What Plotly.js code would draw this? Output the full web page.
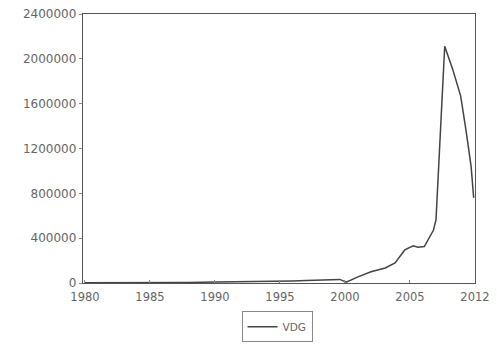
<!DOCTYPE html>
<html>
<head>
<meta charset="utf-8">
<script src="https://cdn.plot.ly/plotly-3.0.1.min.js"></script>
<style>html,body{margin:0;padding:0;background:#fff;}#chart{width:497px;height:345px;}</style>
</head>
<body>
<div id="chart"></div>
<script>
// Data
const years = [1980, 1982, 1984, 1986, 1988, 1990, 1992, 1994, 1995, 1996, 1997, 1998, 1999, 1999.6, 2000.1, 2000.5, 2001, 2002, 2003.1, 2003.85, 2004.6, 2005.25, 2005.6, 2006.1, 2006.8, 2007.0, 2007.67, 2008.3, 2008.9, 2009.3, 2009.7, 2009.9];
const vdg = [3000, 2000, 4000, 3000, 5000, 8000, 10000, 12000, 15000, 18000, 22000, 28000, 30000, 32000, 8000, 30000, 55000, 101000, 134000, 179000, 295000, 331000, 320000, 325000, 470000, 564000, 2112000, 1900000, 1667000, 1369000, 1040000, 760000];
const seriesName = "VDG";
const xTickVals = [1980, 1985, 1990, 1995, 2000, 2005, 2010];
const xTickText = ["1980", "1985", "1990", "1995", "2000", "2005", "2012"];
const yTickVals = [0, 400000, 800000, 1200000, 1600000, 2000000, 2400000];
const yTickText = ["0", "400000", "800000", "1200000", "1600000", "2000000", "2400000"];

const trace = {
  x: years, y: vdg, type: "scatter", mode: "lines", name: seriesName,
  line: {color: "#444444", width: 1.5}
};
const layout = {
  width: 497, height: 345,
  margin: {l: 83, r: 22, t: 14, b: 62, autoexpand: false},
  paper_bgcolor: "#ffffff", plot_bgcolor: "#ffffff",
  font: {family: "DejaVu Sans, sans-serif", size: 12, color: "#666666"},
  showlegend: true,
  legend: {orientation: "h", x: 0.495, xanchor: "center", y: -0.105, yanchor: "top",
           bordercolor: "#888888", borderwidth: 1, itemwidth: 30,
           font: {size: 10.5, color: "#666666"}},
  xaxis: {range: [1979.85, 2010.0], tickvals: xTickVals, ticktext: xTickText,
          showgrid: false, zeroline: false, showline: true, linecolor: "#555555", linewidth: 1.2,
          mirror: true, ticks: "inside", ticklen: 3, tickcolor: "#888888", ticklabelstandoff: 3,
          tickfont: {size: 11.5, color: "#666666"}},
  yaxis: {range: [0, 2400000], tickvals: yTickVals, ticktext: yTickText,
          showgrid: false, zeroline: false, showline: true, linecolor: "#555555", linewidth: 1.2,
          mirror: true, ticks: "outside", ticklen: 3, tickcolor: "#888888",
          tickfont: {size: 12, color: "#666666"}}
};
Plotly.newPlot("chart", [trace], layout, {displayModeBar: false, staticPlot: true});
</script>
</body>
</html>
